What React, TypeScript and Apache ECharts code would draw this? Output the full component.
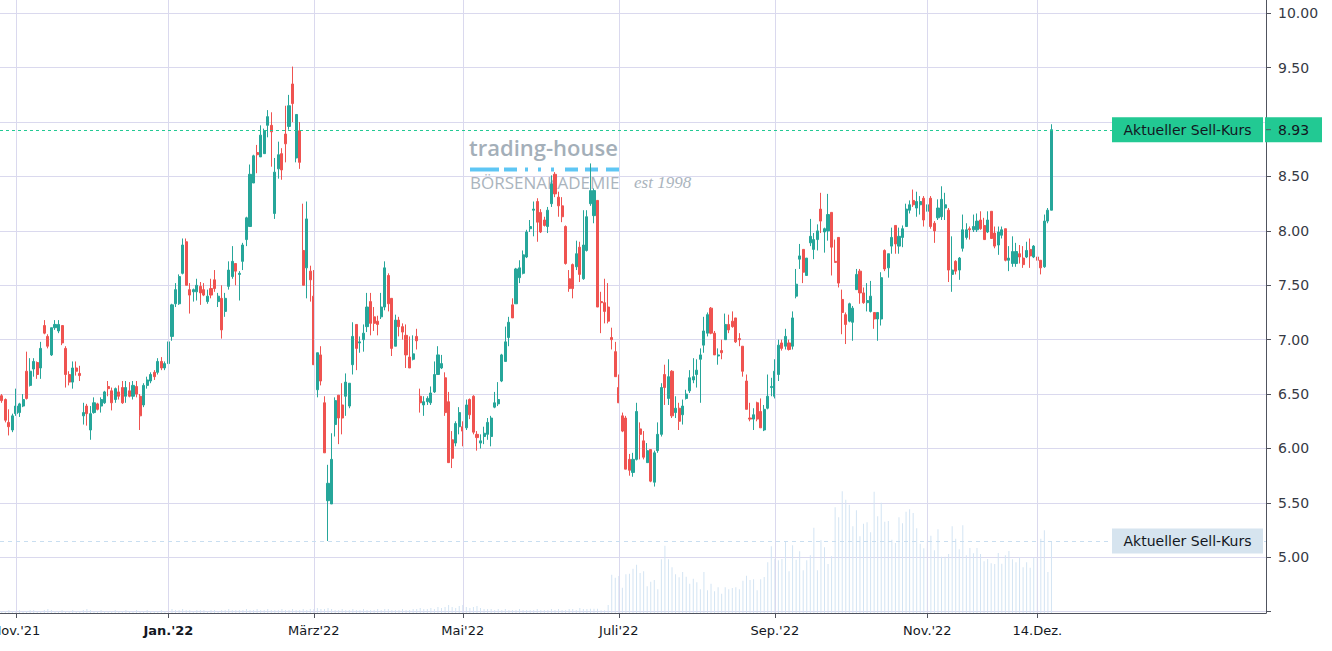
import React, { useEffect, useRef } from "react";
import * as echarts from "echarts";

// ---- data ----
// candles: [open, close, low, high]
const ohlc: number[][] = [
  [6.485, 6.44, 6.42, 6.5], [6.45, 6.26, 6.24, 6.46], [6.24, 6.2, 6.12, 6.36], [6.17, 6.3, 6.15, 6.32], [6.32, 6.39, 6.3, 6.55],
  [6.33, 6.41, 6.29, 6.42], [6.39, 6.45, 6.38, 6.5], [6.71, 6.46, 6.45, 6.89], [6.58, 6.71, 6.57, 6.83], [6.73, 6.8, 6.66, 6.83],
  [6.79, 6.68, 6.64, 6.8], [6.74, 6.92, 6.64, 6.98], [7.13, 7.06, 7.05, 7.18], [7.03, 6.94, 6.92, 7.05], [6.86, 7.11, 6.85, 7.11],
  [7.11, 7.14, 7.09, 7.18], [7.08, 7.14, 7.06, 7.18], [7.13, 6.97, 6.95, 7.13], [6.92, 6.68, 6.56, 6.94], [6.68, 6.61, 6.58, 6.71],
  [6.61, 6.74, 6.55, 6.8], [6.74, 6.71, 6.67, 6.8], [6.69, 6.67, 6.62, 6.76], [6.3, 6.33, 6.22, 6.42], [6.39, 6.32, 6.21, 6.41],
  [6.17, 6.32, 6.08, 6.39], [6.33, 6.42, 6.32, 6.47], [6.41, 6.36, 6.35, 6.42], [6.39, 6.45, 6.33, 6.47], [6.42, 6.52, 6.41, 6.53],
  [6.57, 6.55, 6.48, 6.62], [6.53, 6.42, 6.35, 6.56], [6.45, 6.55, 6.42, 6.56], [6.52, 6.48, 6.45, 6.58], [6.56, 6.42, 6.41, 6.62],
  [6.48, 6.56, 6.42, 6.62], [6.53, 6.48, 6.47, 6.61], [6.48, 6.58, 6.45, 6.62], [6.57, 6.5, 6.47, 6.62], [6.48, 6.3, 6.17, 6.5],
  [6.4, 6.58, 6.38, 6.6], [6.58, 6.63, 6.55, 6.66], [6.62, 6.68, 6.6, 6.7], [6.7, 6.66, 6.63, 6.72], [6.7, 6.8, 6.68, 6.83],
  [6.8, 6.74, 6.72, 6.84], [6.74, 6.78, 6.72, 6.8], [6.78, 6.98, 6.76, 7.0], [7.03, 7.32, 6.99, 7.33], [7.33, 7.46, 7.3, 7.52],
  [7.33, 7.58, 7.32, 7.6], [7.61, 7.87, 7.6, 7.93], [7.9, 7.5, 7.5, 7.93], [7.46, 7.41, 7.24, 7.52], [7.44, 7.46, 7.35, 7.47],
  [7.44, 7.5, 7.36, 7.56], [7.49, 7.43, 7.32, 7.53], [7.46, 7.41, 7.4, 7.52], [7.35, 7.4, 7.33, 7.46], [7.47, 7.41, 7.38, 7.56],
  [7.55, 7.47, 7.44, 7.64], [7.35, 7.4, 7.3, 7.43], [7.38, 7.09, 7.01, 7.5], [7.26, 7.38, 7.21, 7.43], [7.49, 7.64, 7.46, 7.72],
  [7.58, 7.72, 7.56, 7.86], [7.7, 7.63, 7.5, 7.7], [7.6, 7.61, 7.36, 7.63], [7.72, 7.87, 7.64, 7.89], [7.92, 8.12, 7.86, 8.13],
  [8.04, 8.52, 8.04, 8.61], [8.44, 8.69, 8.44, 8.7], [8.72, 8.7, 8.53, 8.79], [8.68, 8.88, 8.68, 8.97], [8.71, 8.92, 8.71, 8.94],
  [8.97, 9.05, 8.86, 9.11], [8.97, 8.91, 8.59, 9.09], [8.16, 8.54, 8.11, 8.67], [8.57, 8.7, 8.48, 8.82], [8.71, 8.56, 8.47, 8.76],
  [8.89, 8.8, 8.63, 9.15], [8.96, 9.15, 8.93, 9.25], [9.35, 9.17, 9.0, 9.51], [8.67, 9.07, 8.63, 9.07], [8.92, 8.63, 8.57, 9.0],
  [7.82, 7.5, 7.5, 8.25], [7.66, 8.11, 7.38, 8.27], [7.63, 7.55, 7.35, 7.68], [7.4, 6.77, 6.77, 7.64], [6.54, 6.88, 6.47, 6.88],
  [6.86, 6.62, 6.58, 6.94], [6.42, 5.96, 5.96, 6.48], [5.52, 5.68, 5.15, 5.85], [5.49, 5.9, 5.49, 6.14], [6.22, 6.44, 6.11, 6.47],
  [6.49, 6.28, 6.04, 6.49], [6.4, 6.28, 6.13, 6.6], [6.48, 6.61, 6.3, 6.69], [6.39, 6.6, 6.37, 6.6], [6.77, 7.03, 6.68, 7.16],
  [7.14, 6.92, 6.72, 7.14], [6.97, 6.98, 6.88, 7.03], [7.0, 7.06, 6.89, 7.14], [7.12, 7.3, 7.07, 7.43], [7.35, 7.15, 7.04, 7.43],
  [7.21, 7.15, 7.08, 7.3], [7.17, 7.14, 7.04, 7.22], [7.21, 7.3, 7.19, 7.43], [7.3, 7.66, 7.27, 7.72], [7.59, 7.33, 7.26, 7.61],
  [7.38, 6.92, 6.85, 7.38], [6.94, 7.18, 6.94, 7.23], [7.18, 7.12, 7.03, 7.21], [7.12, 7.07, 7.0, 7.15], [7.04, 6.86, 6.74, 7.14],
  [6.84, 6.74, 6.74, 7.03], [6.82, 6.87, 6.81, 7.04], [7.03, 6.99, 6.91, 7.1], [6.48, 6.42, 6.33, 6.55], [6.4, 6.43, 6.3, 6.48],
  [6.43, 6.46, 6.4, 6.48], [6.42, 6.51, 6.4, 6.57], [6.52, 6.68, 6.51, 6.8], [6.68, 6.86, 6.68, 6.94], [6.74, 6.78, 6.73, 6.86],
  [6.65, 6.33, 6.3, 6.7], [6.43, 5.87, 5.87, 6.52], [6.08, 5.91, 5.82, 6.16], [6.05, 6.23, 6.02, 6.25], [6.2, 6.33, 6.13, 6.38],
  [6.2, 6.16, 6.02, 6.25], [6.19, 6.4, 6.17, 6.45], [6.45, 6.31, 6.27, 6.46], [6.48, 6.15, 6.13, 6.49], [6.13, 6.1, 5.98, 6.16],
  [6.05, 6.07, 6.0, 6.13], [6.11, 6.14, 6.04, 6.2], [6.13, 6.24, 6.08, 6.28], [6.11, 6.28, 6.02, 6.3], [6.38, 6.42, 6.37, 6.52],
  [6.41, 6.45, 6.39, 6.61], [6.62, 6.86, 6.61, 6.87], [6.8, 6.98, 6.8, 7.12], [7.02, 7.16, 6.94, 7.21], [7.32, 7.2, 7.2, 7.38],
  [7.33, 7.65, 7.33, 7.66], [7.57, 7.66, 7.52, 7.73], [7.61, 7.78, 7.6, 7.82], [7.76, 7.99, 7.75, 8.01], [8.02, 8.04, 7.99, 8.1],
  [8.19, 8.2, 7.95, 8.27], [8.27, 8.08, 7.9, 8.3], [8.17, 7.99, 7.98, 8.2], [8.1, 8.05, 8.04, 8.13], [8.04, 8.19, 7.98, 8.22],
  [8.25, 8.43, 8.22, 8.51], [8.52, 8.34, 8.31, 8.54], [8.31, 8.23, 8.13, 8.36], [8.23, 8.13, 8.08, 8.31], [8.04, 7.7, 7.69, 8.05],
  [7.56, 7.47, 7.44, 7.64], [7.69, 7.47, 7.38, 7.7], [7.67, 7.79, 7.64, 7.91], [7.85, 7.6, 7.53, 7.9], [7.56, 7.87, 7.55, 8.19],
  [7.82, 8.13, 7.81, 8.19], [8.25, 8.37, 8.23, 8.62], [8.14, 8.37, 8.07, 8.39], [8.28, 7.3, 7.3, 8.28], [7.35, 7.34, 7.06, 7.44],
  [7.34, 7.26, 7.15, 7.56], [7.3, 7.17, 7.15, 7.52], [7.02, 7.0, 6.91, 7.11], [6.89, 6.66, 6.66, 6.98], [6.56, 6.42, 6.42, 6.68],
  [6.3, 6.16, 6.15, 6.33], [6.28, 5.81, 5.81, 6.3], [5.9, 5.8, 5.75, 5.95], [5.78, 5.9, 5.74, 5.96], [5.9, 6.34, 5.89, 6.42],
  [6.18, 6.13, 5.9, 6.24], [6.07, 5.92, 5.9, 6.16], [5.87, 5.98, 5.87, 6.05], [5.99, 5.7, 5.69, 5.99], [5.69, 5.96, 5.65, 5.98],
  [5.98, 6.13, 5.96, 6.24], [6.13, 6.56, 6.11, 6.6], [6.68, 6.56, 6.4, 6.77], [6.46, 6.66, 6.4, 6.82], [6.71, 6.3, 6.28, 6.72],
  [6.33, 6.37, 6.28, 6.48], [6.37, 6.25, 6.17, 6.42], [6.31, 6.39, 6.22, 6.45], [6.46, 6.5, 6.45, 6.54], [6.53, 6.65, 6.51, 6.72],
  [6.63, 6.66, 6.6, 6.83], [6.68, 6.72, 6.56, 6.82], [6.82, 6.86, 6.42, 6.92], [6.95, 7.08, 6.88, 7.21], [7.06, 7.23, 7.03, 7.25],
  [7.29, 7.06, 7.05, 7.3], [7.06, 6.86, 6.86, 7.08], [6.85, 6.86, 6.77, 6.92], [6.9, 6.88, 6.82, 7.0], [7.0, 7.14, 7.0, 7.24],
  [7.14, 7.09, 7.06, 7.23], [7.17, 7.12, 7.11, 7.26], [7.2, 6.98, 6.97, 7.2], [7.01, 7.0, 6.94, 7.06], [6.94, 6.71, 6.66, 6.94],
  [6.62, 6.36, 6.36, 6.68], [6.28, 6.27, 6.25, 6.42], [6.27, 6.31, 6.17, 6.37], [6.42, 6.27, 6.25, 6.43], [6.34, 6.19, 6.19, 6.46],
  [6.17, 6.36, 6.16, 6.4], [6.37, 6.48, 6.36, 6.68], [6.56, 6.57, 6.48, 6.65], [6.48, 6.71, 6.46, 6.82], [6.68, 6.95, 6.62, 7.0],
  [6.97, 6.92, 6.9, 7.0], [6.94, 7.03, 6.91, 7.1], [6.97, 6.91, 6.9, 7.0], [6.94, 7.2, 6.91, 7.26], [7.4, 7.51, 7.38, 7.65],
  [7.74, 7.77, 7.65, 7.88], [7.83, 7.62, 7.52, 7.83], [7.59, 7.75, 7.59, 7.75], [7.89, 7.95, 7.86, 8.11], [7.83, 7.92, 7.74, 7.98],
  [7.92, 8.0, 7.82, 8.06], [8.2, 8.09, 7.98, 8.35], [7.99, 8.02, 7.8, 8.03], [8.0, 8.15, 7.91, 8.34], [8.17, 7.85, 7.59, 8.17],
  [7.72, 7.71, 7.71, 7.92], [7.94, 7.52, 7.48, 7.94], [7.37, 7.25, 7.05, 7.46], [7.23, 7.14, 6.96, 7.25], [7.17, 7.33, 7.16, 7.34],
  [7.16, 7.29, 6.99, 7.31], [7.46, 7.6, 7.46, 7.65], [7.63, 7.43, 7.33, 7.65], [7.43, 7.34, 7.33, 7.48], [7.34, 7.36, 7.26, 7.52],
  [7.26, 7.4, 7.25, 7.54], [7.25, 7.19, 7.1, 7.25], [7.19, 7.25, 6.99, 7.25], [7.19, 7.57, 7.13, 7.62], [7.82, 7.65, 7.63, 7.83],
  [7.66, 7.79, 7.57, 7.79], [7.86, 7.94, 7.79, 8.03], [8.05, 7.88, 7.79, 8.05], [7.86, 7.95, 7.79, 8.03], [7.94, 8.02, 7.85, 8.05],
  [8.04, 8.2, 8.04, 8.25], [8.19, 8.24, 8.16, 8.28], [8.28, 8.24, 8.22, 8.38], [8.21, 8.27, 8.13, 8.36], [8.24, 8.27, 8.15, 8.32],
  [8.3, 8.1, 8.04, 8.32], [8.18, 8.24, 8.15, 8.32], [8.3, 8.04, 8.02, 8.32], [8.07, 8.0, 7.89, 8.09], [8.12, 8.21, 8.1, 8.29],
  [8.13, 8.29, 8.1, 8.41], [8.21, 8.24, 8.1, 8.35], [8.19, 7.64, 7.53, 8.21], [7.6, 7.64, 7.44, 7.95], [7.72, 7.63, 7.6, 7.73],
  [7.64, 7.75, 7.55, 7.76], [7.84, 8.01, 7.81, 8.15], [7.94, 8.01, 7.92, 8.07], [8.02, 8.01, 7.92, 8.04], [8.01, 8.04, 7.99, 8.15],
  [8.01, 8.09, 7.99, 8.16], [8.1, 8.02, 8.01, 8.18], [8.05, 7.92, 7.92, 8.12], [7.99, 8.1, 7.98, 8.18], [8.18, 7.93, 7.93, 8.18],
  [7.98, 7.86, 7.84, 8.04], [7.87, 7.99, 7.78, 8.04], [7.96, 8.01, 7.93, 8.04], [8.02, 7.73, 7.72, 8.02], [7.73, 7.75, 7.63, 7.86],
  [7.7, 7.81, 7.67, 7.95], [7.7, 7.81, 7.67, 7.89], [7.79, 7.76, 7.7, 7.87], [7.75, 7.69, 7.66, 7.86], [7.76, 7.82, 7.75, 7.9],
  [7.83, 7.77, 7.66, 7.93], [7.76, 7.86, 7.75, 7.87], [7.76, 7.73, 7.67, 7.86], [7.73, 7.66, 7.6, 7.73], [7.67, 8.09, 7.66, 8.15],
  [8.09, 8.19, 8.07, 8.21], [8.19, 8.93, 8.19, 8.98],
];

const volume: number[] = [
  // Nov - Dec 2021
  2, 2, 3, 2, 2, 3, 2, 2, 3, 3, 2, 2, 3, 4, 3, 2, 2, 3, 2, 2, 3, 2, 2, 3, 4, 3, 2, 2, 3, 2,
  2, 2, 3, 2, 2, 3, 2, 2, 3, 2, 2, 3, 2, 2, 2, 3, 2, 2,
  // Jan - Feb 2022
  4, 3, 3, 4, 3, 3, 2, 3, 3, 3, 2, 3, 3, 2, 3, 3, 4, 3, 3, 3, 3, 4, 3, 3, 4, 3, 3, 4, 3, 3,
  3, 4, 3, 3, 4, 3, 3, 4, 3, 4, 4,
  // Mar - Apr 2022
  5, 4, 4, 5, 4, 3, 3, 4, 3, 3, 4, 3, 3, 4, 3, 3, 3, 4, 3, 4, 4, 3, 3, 3, 4, 3, 3, 4, 4, 5,
  4, 4, 5, 4, 6, 5, 6, 8, 6, 5, 7,
  // May - Jun 2022
  8, 6, 5, 6, 7, 5, 4, 4, 4, 3, 4, 3, 4, 3, 3, 3, 4, 3, 3, 3, 3, 4, 3, 3, 3, 4, 3, 4, 3, 3,
  4, 4, 3, 5, 4, 4,
  // from late Jun 2022
  4.3, 4.3, 4.3, 2.7, 2.7, 8, 38.3, 35.3, 37, 25.3,
  38.7, 39.3, 44.3, 48.3, 40, 41.7, 26.7, 31.3, 33, 23.7,
  53.7, 67.3, 53.7, 45.7, 38.7, 35.7, 41, 36.3, 29.3, 34.3,
  30.7, 23.7, 41, 22.7, 29.3, 21.7, 25.7, 19.3, 25.7, 23.7,
  25, 25.7, 23.7, 32.3, 37.3, 33, 33.7, 22.7, 33.7, 36,
  50.7, 66.7, 54.3, 52.7, 54, 72, 41.7, 67.7, 53.3, 61.7,
  42.7, 52.7, 57.7, 85.3, 42.7, 72.7, 65.7, 49, 56.7, 105.7,
  95.7, 121.7, 113.3, 108.3, 86.7, 102.7, 76.7, 89.3, 90.7, 80.7,
  121.3, 96.7, 110.3, 91.3, 92, 73.3, 70, 95.7, 89.7, 101.3,
  103.7, 100, 84.7, 69.3, 64.7, 72.3, 77.3, 62.7, 83.7, 56.3,
  56.3, 59, 86.7, 74.3, 63.7, 87.7, 57.7, 65, 59.7, 65,
  59, 51.7, 54, 49.7, 49, 60, 49.3, 57.7, 62, 53.7,
  50.7, 55.7, 45.7, 50.7, 45.3, 55.3, 55.7, 74.3, 82.7, 41,
  72,
];

const firstDay = "2021-10-26";
const holidays = ["2021-12-24", "2021-12-31", "2022-04-15", "2022-04-18"];
const totalSlots = 357;

const tickLabels: [string, string][] = [
  ["2021-11-01", "Nov.'21"],
  ["2022-01-03", "Jan.'22"],
  ["2022-03-01", "März'22"],
  ["2022-05-02", "Mai'22"],
  ["2022-07-01", "Juli'22"],
  ["2022-09-01", "Sep.'22"],
  ["2022-11-01", "Nov.'22"],
  ["2022-12-14", "14.Dez."],
];
const boldTicks = ["2022-01-03"];
const priceLabel = "Aktueller Sell-Kurs";
const volumeLabel = "Aktueller Sell-Kurs";

function tradingDays(): string[] {
  const out: string[] = [];
  const d = new Date(firstDay + "T00:00:00Z");
  while (out.length < totalSlots) {
    const dow = d.getUTCDay();
    const s = d.toISOString().slice(0, 10);
    if (dow !== 0 && dow !== 6 && holidays.indexOf(s) < 0) out.push(s);
    d.setUTCDate(d.getUTCDate() + 1);
  }
  return out;
}

const FONT = "'DejaVu Sans', sans-serif";
const GRID_COLOR = "#dad9ee";
const AXIS_COLOR = "#50535e";
const UP = "#26a69a";
const DOWN = "#ef5350";
const LAST_GREEN = "#22c993";

export default function App() {
  const ref = useRef<HTMLDivElement>(null);

  useEffect(() => {
    if (!ref.current) return;
    const chart = echarts.init(ref.current, undefined, { renderer: "svg" });
    const days = tradingDays();
    const labelMap: Record<string, string> = {};
    tickLabels.forEach(([d, l]) => (labelMap[d] = l));
    const isTick = (_i: number, v: string) => labelMap[v] !== undefined;
    const lastClose = ohlc[ohlc.length - 1][1];
    const lastVol = volume[volume.length - 1];

    chart.setOption({
      animation: false,
      grid: { left: 0, right: 66, top: 0, bottom: 38, containLabel: false, outerBoundsMode: "none" },
      xAxis: {
        type: "category",
        data: days,
        boundaryGap: true,
        axisLine: { show: true, lineStyle: { color: AXIS_COLOR, width: 1 } },
        axisTick: { show: true, alignWithLabel: true, interval: isTick, length: 5, lineStyle: { color: AXIS_COLOR } },
        axisLabel: {
          interval: isTick,
          margin: 11,
          color: "#131722",
          fontSize: 13,
          fontFamily: FONT,
          formatter: (v: string) => {
            const l = labelMap[v] || "";
            return boldTicks.indexOf(v) >= 0 ? `{b|${l}}` : l;
          },
          rich: { b: { fontWeight: "bold", fontSize: 13, fontFamily: FONT, color: "#131722" } },
        },
        splitLine: { show: false },
      },
      yAxis: [
        {
          type: "value",
          position: "right",
          min: 4.488,
          max: 10.122,
          splitNumber: 11,
          axisLine: { show: true, lineStyle: { color: AXIS_COLOR, width: 1 } },
          axisTick: { show: true, length: 5, lineStyle: { color: AXIS_COLOR } },
          axisLabel: {
            margin: 12,
            color: "#363a45",
            fontSize: 14,
            fontFamily: FONT,
            showMinLabel: false,
            showMaxLabel: false,
            formatter: (v: number) => {
              const onStep = Math.abs(v * 2 - Math.round(v * 2)) < 1e-6 && v > 4.7 && v < 10.05;
              const hidden = Math.abs(v - lastClose) < 0.15;
              return onStep && !hidden ? v.toFixed(2) : "";
            },
          },
          splitLine: { show: true, showMinLine: false, showMaxLine: false, lineStyle: { color: GRID_COLOR, width: 1 } },
        },
        { type: "value", min: 0, max: 613, show: false, splitLine: { show: false } },
      ],
      series: [
        {
          type: "bar",
          name: "volume",
          data: volume,
          xAxisIndex: 0,
          yAxisIndex: 1,
          barWidth: 1,
          silent: true,
          itemStyle: { color: "#d3e4f3" },
          z: 1,
          markLine: {
            silent: true,
            symbol: ["none", "none"],
            label: { show: false },
            animation: false,
            data: [
              ...tickLabels.map(([d]) => ({ xAxis: d, lineStyle: { color: GRID_COLOR, width: 1, type: "solid" } })),
              { yAxis: lastVol, lineStyle: { color: "#c9def0", width: 1, type: [4, 4] } },
            ],
          },
        },
        {
          type: "candlestick",
          name: "price",
          data: ohlc,
          barWidth: 2.6,
          z: 3,
          itemStyle: { color: UP, color0: DOWN, borderColor: UP, borderColor0: DOWN, borderWidth: 1 },
        },
      ],
    });

    const yP = chart.convertToPixel({ yAxisIndex: 0 }, lastClose) as number;
    const yV = chart.convertToPixel({ yAxisIndex: 1 }, lastVol) as number;
    const logoBlue = "#5ec6f4";
    const logoGray = "#a4afb9";
    const dashes: [number, number][] = [
      [470, 499], [504, 517], [525, 528], [538, 541], [551, 554], [565, 578], [585, 598], [606, 620],
    ];

    chart.setOption({
      graphic: [
        {
          type: "group",
          z: -10,
          silent: true,
          children: [
            {
              type: "text",
              style: { text: "trading-house", x: 469, y: 136, font: "600 22px 'Open Sans', sans-serif", fill: logoGray, textVerticalAlign: "top" },
            },
            ...dashes.map(([a, b]) => ({
              type: "line",
              shape: { x1: a, y1: 169.5, x2: b, y2: 169.5 },
              style: { stroke: logoBlue, lineWidth: 4 },
            })),
            {
              type: "text",
              style: { text: "BÖRSENAKADEMIE", x: 470, y: 174, font: "17px 'Open Sans', sans-serif", fill: "#aab4bd", textVerticalAlign: "top" },
            },
            {
              type: "text",
              style: { text: "est 1998", x: 634, y: 174, font: "italic 17px 'Liberation Serif', serif", fill: "#aab4bd", textVerticalAlign: "top" },
            },
          ],
        },
        {
          type: "line",
          z: 49,
          silent: true,
          shape: { x1: 0, y1: Math.round(yP) + 0.5, x2: 1112, y2: Math.round(yP) + 0.5 },
          style: { stroke: LAST_GREEN, lineWidth: 1, lineDash: [3, 3] },
        },
        {
          type: "rect",
          z: 50,
          shape: { x: 1112, y: yP - 12.5, width: 151, height: 25 },
          style: { fill: LAST_GREEN },
        },
        {
          type: "text",
          z: 51,
          style: { text: priceLabel, x: 1187.5, y: yP, font: `14px ${FONT}`, fill: "#131722", textAlign: "center", textVerticalAlign: "middle" },
        },
        {
          type: "rect",
          z: 50,
          shape: { x: 1265, y: yP - 12.5, width: 57, height: 25 },
          style: { fill: LAST_GREEN },
        },
        {
          type: "line",
          z: 51,
          shape: { x1: 1266, y1: yP, x2: 1271, y2: yP },
          style: { stroke: AXIS_COLOR, lineWidth: 1 },
        },
        {
          type: "text",
          z: 51,
          style: { text: lastClose.toFixed(2), x: 1278, y: yP, font: `14px ${FONT}`, fill: "#131722", textAlign: "left", textVerticalAlign: "middle" },
        },
        {
          type: "rect",
          z: 50,
          shape: { x: 1112, y: yV - 12.5, width: 151, height: 25 },
          style: { fill: "#d6e4ef" },
        },
        {
          type: "text",
          z: 51,
          style: { text: volumeLabel, x: 1187.5, y: yV, font: `14px ${FONT}`, fill: "#131722", textAlign: "center", textVerticalAlign: "middle" },
        },
      ],
    });

    return () => chart.dispose();
  }, []);

  return (
    <div
      ref={ref}
      style={{ position: "absolute", left: 0, top: 0, width: 1332, height: 651, background: "#ffffff" }}
    />
  );
}
